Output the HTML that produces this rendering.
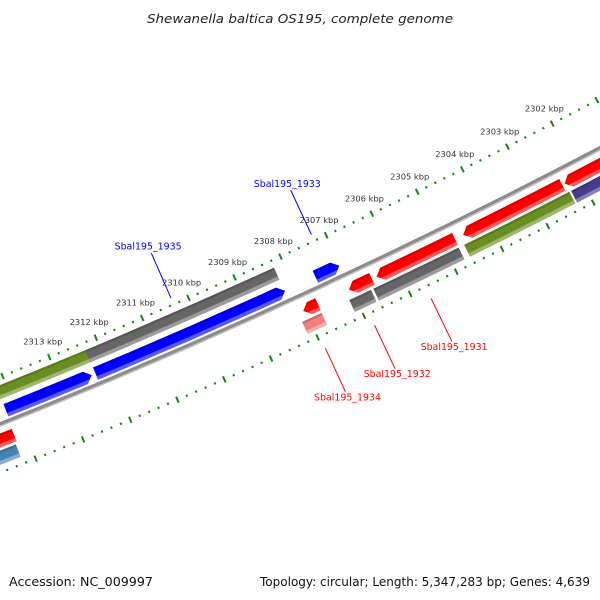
<!DOCTYPE html>
<html><head><meta charset="utf-8"><style>
html,body{margin:0;padding:0;background:#fff;}
svg{display:block;font-family:"DejaVu Sans","Liberation Sans",sans-serif;}
</style></head><body>
<svg id="chart" width="600" height="600" viewBox="0 0 600 600" xmlns="http://www.w3.org/2000/svg">
<text x="300" y="23" text-anchor="middle" font-size="12.5" font-style="italic" fill="#222" textLength="306" lengthAdjust="spacingAndGlyphs">Shewanella baltica OS195, complete genome</text>
<g id="defs-holder"></g>
<g id="plot"></g>
<text x="9" y="586" font-size="12" fill="#111" textLength="144" lengthAdjust="spacingAndGlyphs">Accession: NC_009997</text>
<text x="590" y="586" text-anchor="end" font-size="12" fill="#111" textLength="330" lengthAdjust="spacingAndGlyphs">Topology: circular; Length: 5,347,283 bp; Genes: 4,639</text>
</svg>
<script>
// ---- data ----
const tickKbp = [2299,2300,2301,2302,2303,2304,2305,2306,2307,2308,2309,2310,2311,2312,2313,2314,2315,2316,2317];
const tickLabels = ["2302 kbp","2303 kbp","2304 kbp","2305 kbp","2306 kbp","2307 kbp","2308 kbp","2309 kbp","2310 kbp","2311 kbp","2312 kbp","2313 kbp"];
const tickLabelKbp = [2302,2303,2304,2305,2306,2307,2308,2309,2310,2311,2312,2313];
const geneStart = [2316, 2312.30, 2314.19, 2312.28, 2307.54, 2307.72, 2307.73, 2306.55, 2306.66, 2304.74, 2304.75, 2302.38, 2302.32, 2300.0, 2300.0, 2314.22, 2314.26];
const geneEnd   = [2312.30, 2308.21, 2312.36, 2308.20, 2307.02, 2308.04, 2308.15, 2307.05, 2307.13, 2306.45, 2306.61, 2304.56, 2304.63, 2302.33, 2302.28, 2316.5, 2316.5];
const geneTrack = [-30, -30, -11, -11, -11, 15, 31, 15, 31, 15, 31, 15, 31, 15, 31, 15, 31];
const geneColor = ["#6b8e23","#666666","#0000ff","#0000ff","#0000ff","#ff0000","#f08080","#ff0000","#666666","#ff0000","#666666","#ff0000","#6b8e23","#ff0000","#483d8b","#ff0000","#4682b4"];
const geneArrow = [0,0,1,1,1,1,0,1,0,1,0,1,0,1,0,0,0];
const labelNames = ["Sbal195_1935","Sbal195_1933","Sbal195_1934","Sbal195_1932","Sbal195_1931"];
const labelKbp = [2310.32, 2307.26, 2307.95, 2306.89, 2305.67];
const labelSide = [-1,-1,1,1,1];
const labelColor = ["#0000ff","#0000ff","#ff0000","#ff0000","#ff0000"];

// ---- geometry ----
const CX=-2306, CY=-5376, RB=6242, TH0=1.0915, KR=0.008136;
const NS="http://www.w3.org/2000/svg";
function ang(k){return TH0+(k-2302)*KR;}
function pt(r,a){return [CX+r*Math.cos(a), CY+r*Math.sin(a)];}
function f(p){return p[0].toFixed(2)+" "+p[1].toFixed(2);}
function arc(r,a1,a2){const p1=pt(r,a1),p2=pt(r,a2);return "M"+f(p1)+" A"+r+" "+r+" 0 0 1 "+f(p2);}
function sector(r1,r2,a1,a2){
  return "M"+f(pt(r2,a1))+" A"+r2+" "+r2+" 0 0 1 "+f(pt(r2,a2))+" L"+f(pt(r1,a2))+" A"+r1+" "+r1+" 0 0 0 "+f(pt(r1,a1))+" Z";
}
const plot=document.getElementById('plot');
const svg=document.getElementById('chart');
const defs=document.createElementNS(NS,'defs');
svg.insertBefore(defs, svg.firstChild);
function mk(tag,attrs,parent){const e=document.createElementNS(NS,tag);for(const k in attrs)e.setAttribute(k,attrs[k]);(parent||plot).appendChild(e);return e;}

// backbone
const bb=mk('path',{d:arc(RB,ang(2318),ang(2298)).replace(/ 0 0 1 /,' 0 0 0 '),fill:'none',stroke:'#8c8c8c','stroke-width':4.5});


const bb2=mk('path',{d:arc(RB+1.6,ang(2318),ang(2298)).replace(/ 0 0 1 /,' 0 0 0 '),fill:'none',stroke:'#c4c4c4','stroke-width':1.3});



// ticks
const tickRadii=[RB-44, RB+45];
tickRadii.forEach((r,ti)=>{
  const g=mk('g',{});
  
  
  for(let i=0;i<tickKbp.length-1;i++){
    for(let j=0;j<5;j++){
      const k=tickKbp[i]+j*0.2;
      const a=ang(k);
      const major=(j===0);
      const h=major?3.3:1.1;
      const t=mk('line',{x1:pt(r-h,a)[0],y1:pt(r-h,a)[1],x2:pt(r+h,a)[0],y2:pt(r+h,a)[1],stroke:'#118811','stroke-width':major?2:2},g);
      
      
    }
  }
});
// tick labels
tickLabels.forEach((s,i)=>{
  const p=pt(RB-44-17, ang(tickLabelKbp[i]));
  const t=mk('text',{x:p[0].toFixed(1),y:(p[1]+3).toFixed(1),'text-anchor':'middle','font-size':8.3,fill:'#333'});
  t.textContent=s;
  
  
});

// genes
const H=6.6, HEAD=7;
geneStart.forEach((s,i)=>{
  const e=geneEnd[i];
  const r=RB+geneTrack[i], r1=r-H, r2=r+H;
  const as=ang(s), ae=ang(e);
  let d;
  if(geneArrow[i]){
    const dh=HEAD/r;
    const ah = ae>as ? ae-dh : ae+dh;
    const lo=Math.min(as,ah), hi=Math.max(as,ah);
    if(ae>as){
      d="M"+f(pt(r2,lo))+" A"+r2+" "+r2+" 0 0 1 "+f(pt(r2,hi))+" L"+f(pt(r,ae))+" L"+f(pt(r1,hi))+" A"+r1+" "+r1+" 0 0 0 "+f(pt(r1,lo))+" Z";
    }else{
      d="M"+f(pt(r,ae))+" L"+f(pt(r2,lo))+" A"+r2+" "+r2+" 0 0 1 "+f(pt(r2,hi))+" L"+f(pt(r1,hi))+" A"+r1+" "+r1+" 0 0 0 "+f(pt(r1,lo))+" Z";
    }
  }else{
    d=sector(r1,r2,Math.min(as,ae),Math.max(as,ae));
  }
  const cp=mk('clipPath',{id:'gclip'+i},defs);
  mk('path',{d:d},cp);
  const g=mk('g',{});
  
  
  const body=mk('path',{d:d,fill:geneColor[i]},g);
  
  
  const lo=Math.min(as,ae)-0.01, hi=Math.max(as,ae)+0.01;
  const dark=mk('path',{d:sector(r1,r1+2.2,lo,hi),fill:'#000','fill-opacity':0.15,'clip-path':'url(#gclip'+i+')'},g);
  
  
  const hl=mk('path',{d:sector(r2-3.6,r2,lo,hi),fill:'#fff','fill-opacity':0.35,'clip-path':'url(#gclip'+i+')'},g);
  
  
});

// gene labels
labelNames.forEach((s,i)=>{
  const a=ang(labelKbp[i]);
  let rl1,rl2,rt;
  if(labelSide[i]<0){rl1=RB-100;rl2=RB-51;rt=RB-108;}
  else{rl1=RB+58;rl2=RB+106;rt=RB+111;}
  const p1=pt(rl1,a),p2=pt(rl2,a),pt3=pt(rt,a);
  const ln=mk('line',{x1:p1[0],y1:p1[1],x2:p2[0],y2:p2[1],stroke:labelColor[i],'stroke-width':1});
  
  
  const t=mk('text',{x:pt3[0].toFixed(1),y:(pt3[1]+4).toFixed(1),'text-anchor':'middle','font-size':10,fill:labelColor[i],textLength:67,lengthAdjust:'spacingAndGlyphs'});
  t.textContent=s;
  
  
});
</script>
</body></html>
